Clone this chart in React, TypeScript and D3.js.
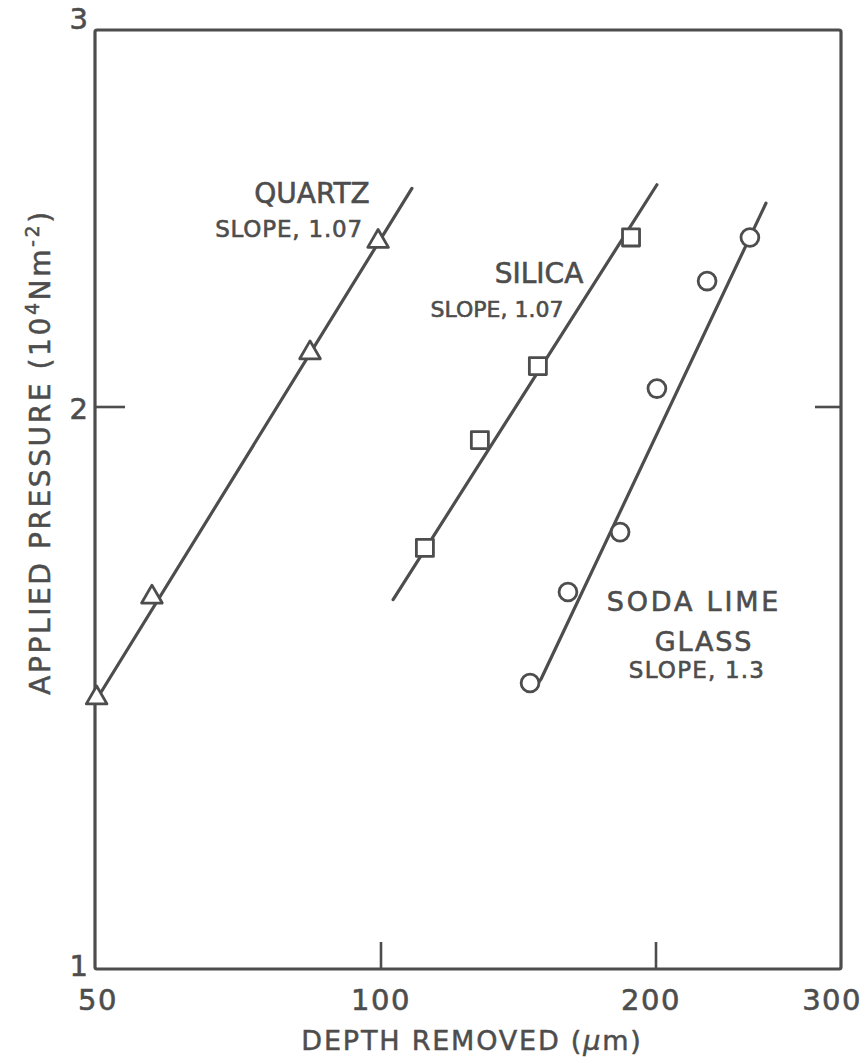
import * as d3 from 'd3';

// ticks and labels
const xTicks = [50, 100, 200, 300];
const yTicks = [1, 2, 3];
const xInnerTicks = [100, 200];
const yInnerTicks = [2];

// measured points [depth µm, pressure 10^4 N m^-2]
const quartz = [[50.2, 1.397], [57.4, 1.582], [84.2, 2.12], [99.3, 2.39]];
const quartzFit = [[50, 1.39], [108.1, 2.53]];

const silica = [[111.7, 1.681], [128.3, 1.92], [148.5, 2.09], [187.8, 2.4]];
const silicaFit = [[103.1, 1.577], [200.4, 2.54]];

const soda = [[145.6, 1.423], [160.2, 1.592], [182.7, 1.714], [200.4, 2.04], [223.7, 2.29], [245.7, 2.4]];
const sodaFit = [[147.2, 1.414], [149.7, 1.43], [254.5, 2.49]];

const ink = '#4d4d4d';

export default function App() {
  const width = 866;
  const height = 1061;
  const left = 95, right = 841, top = 30, bottom = 969;

  // the scanned axes are not quite true log, so pin every labelled tick
  const x = d3.scaleLog().domain([50, 100, 200, 300]).range([left, 381, 656, right]);
  const y = d3.scaleLog().domain([1, 2, 3]).range([bottom, 407, top]);

  const line = d3.line<number[]>()
    .x(d => x(d[0]))
    .y(d => y(d[1]))
    .curve(d3.curveLinear);

  const tri = d3.symbol().type(d3.symbolTriangle).size(185)();
  const sq = d3.symbol().type(d3.symbolSquare).size(290)();
  const circ = d3.symbol().type(d3.symbolCircle).size(250)();

  const font = '"DejaVu Sans", sans-serif';

  return (
    <svg width={width} height={height} style={{ position: 'absolute', left: 0, top: 0, background: '#fff' }}>
      {/* frame */}
      <rect x={left} y={top} width={right - left} height={bottom - top}
        fill="none" stroke={ink} strokeWidth={3.2} rx={2} />

      {/* ticks */}
      {xInnerTicks.map(t => (
        <line key={'xt' + t} x1={x(t)} x2={x(t)} y1={bottom} y2={bottom - 27} stroke={ink} strokeWidth={2.6} />
      ))}
      {yInnerTicks.map(t => (
        <g key={'yt' + t}>
          <line x1={left} x2={left + 30} y1={y(t)} y2={y(t)} stroke={ink} strokeWidth={2.6} />
          <line x1={right} x2={right - 26} y1={y(t)} y2={y(t)} stroke={ink} strokeWidth={2.6} />
        </g>
      ))}

      {/* tick labels */}
      <g fill={ink} stroke={ink} strokeWidth={0.6} fontFamily={font} fontSize={29}>
        {xTicks.map(t => (
          <text key={'xl' + t}
            x={t === 300 ? 862 : x(t) + (t === 200 ? -5 : t === 50 ? 3 : 0)}
            y={1010}
            textAnchor={t === 300 ? 'end' : 'middle'}
            letterSpacing={1.5}>{t}</text>
        ))}
        {yTicks.map(t => (
          <text key={'yl' + t} x={88} y={y(t) + (t === 3 ? -1 : t === 1 ? 7 : 12)} textAnchor="end">{t}</text>
        ))}
      </g>

      {/* axis titles */}
      <text x={472} y={1050} textAnchor="middle" fill={ink} stroke={ink} strokeWidth={0.5}
        fontFamily={font} fontSize={27} letterSpacing={1.8}>
        DEPTH REMOVED (<tspan fontStyle="italic">µ</tspan>m)
      </text>
      <text transform="translate(50,452) rotate(-90)" textAnchor="middle" fill={ink} stroke={ink} strokeWidth={0.5}
        fontFamily={font} fontSize={28} letterSpacing={2.6}>
        APPLIED PRESSURE (10<tspan dy={-11} fontSize={19}>4</tspan><tspan dy={11}>Nm</tspan><tspan dy={-11} fontSize={19}>-2</tspan><tspan dy={11}>)</tspan>
      </text>

      {/* fitted lines */}
      <g fill="none" stroke={ink} strokeWidth={3.2} strokeLinecap="round" strokeLinejoin="round">
        <path d={line(quartzFit) || ''} />
        <path d={line(silicaFit) || ''} />
        <path d={line(sodaFit) || ''} />
      </g>

      {/* markers */}
      <g fill="#fff" stroke={ink} strokeWidth={2.8} strokeLinejoin="round">
        {quartz.map((d, i) => (
          <path key={'q' + i} d={tri || ''} transform={`translate(${x(d[0])},${y(d[1])})`} />
        ))}
        {silica.map((d, i) => (
          <path key={'s' + i} d={sq || ''} transform={`translate(${x(d[0])},${y(d[1])})`} />
        ))}
        {soda.map((d, i) => (
          <path key={'g' + i} d={circ || ''} transform={`translate(${x(d[0])},${y(d[1])})`} />
        ))}
      </g>

      {/* annotations */}
      <g fill={ink} stroke={ink} strokeWidth={0.6} fontFamily={font}>
        <text x={312} y={203} textAnchor="middle" fontSize={28}>QUARTZ</text>
        <text x={289} y={237} textAnchor="middle" fontSize={23} letterSpacing={0.8}>SLOPE, 1.07</text>
        <text x={539} y={283} textAnchor="middle" fontSize={28}>SILICA</text>
        <text x={497} y={317} textAnchor="middle" fontSize={22}>SLOPE, 1.07</text>
        <text x={694} y={611} textAnchor="middle" fontSize={27} letterSpacing={2.8}>SODA LIME</text>
        <text x={704} y={651} textAnchor="middle" fontSize={27} letterSpacing={1.8}>GLASS</text>
        <text x={697} y={678} textAnchor="middle" fontSize={23} letterSpacing={1.2}>SLOPE, 1.3</text>
      </g>
    </svg>
  );
}
